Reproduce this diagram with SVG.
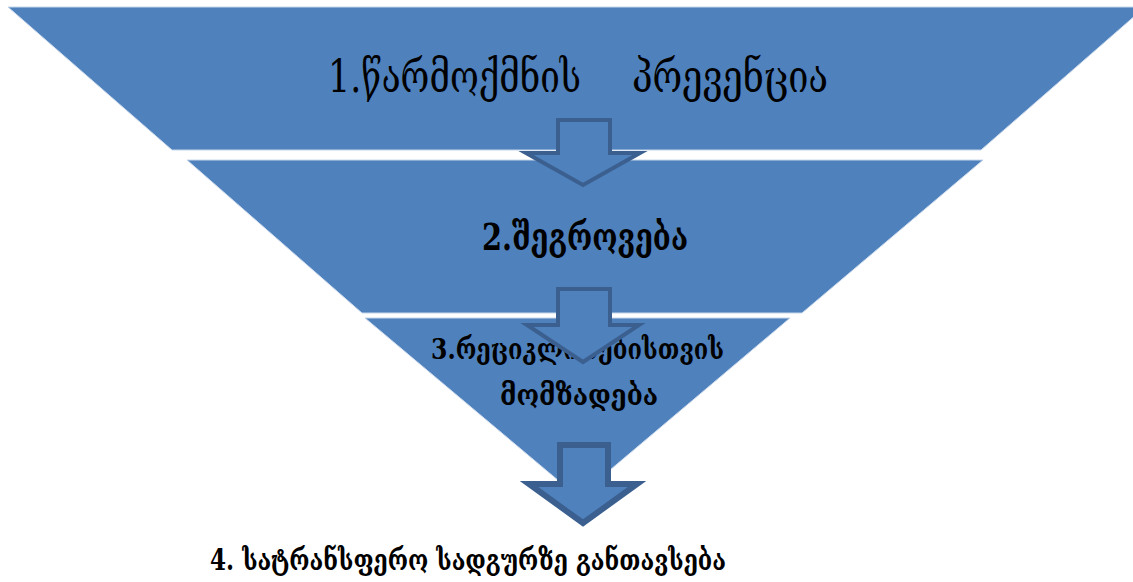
<svg xmlns="http://www.w3.org/2000/svg" width="1133" height="582" viewBox="0 0 1133 582">
<style>
.band{fill:#4f81bd;stroke:#c6d6ea;stroke-width:1}
.lbl{font-family:"DejaVu Serif","DejaVu Sans",serif;fill:#000}
.b{font-weight:bold}
.arr{fill:#4f81bd;stroke:#3b6090;stroke-linejoin:miter}
</style>
<rect width="1133" height="582" fill="#fff"/>
<g id="node1">
<polygon class="band" points="8,7 1145,7 981,150 172,150"/>
<text class="lbl" y="92" font-size="44"><tspan x="328" textLength="253" lengthAdjust="spacingAndGlyphs">1.წარმოქმნის</tspan><tspan x="632" textLength="196" lengthAdjust="spacingAndGlyphs">პრევენცია</tspan></text>
</g>
<g id="node2">
<polygon class="band" points="187,160 983,160 802,313 362,313"/>
<text class="lbl b" x="482" y="250" font-size="38" textLength="206" lengthAdjust="spacingAndGlyphs">2.შეგროვება</text>
</g>
<g id="node3">
<polygon class="band" points="365,318 790,318 578,497"/>
<text class="lbl b" x="431" y="359" font-size="28" textLength="293" lengthAdjust="spacingAndGlyphs">3.რეციკლირებისთვის</text>
<text class="lbl b" x="500" y="405" font-size="28" textLength="158" lengthAdjust="spacingAndGlyphs">მომზადება</text>
</g>
<g id="node4">
<text class="lbl b" x="210" y="570" font-size="29" textLength="516" lengthAdjust="spacingAndGlyphs">4. სატრანსფერო სადგურზე განთავსება</text>
</g>
<g id="connectors">
<polygon class="arr" stroke-width="4" points="558,120 610,120 610,153 640,153 583,185 526,153 558,153"/>
<polygon class="arr" stroke-width="4" points="558,289 610,289 610,325 639,325 583,362 527,325 558,325"/>
<polygon class="arr" stroke-width="6" points="560,445 608,445 608,484 637,484 583,523 529,484 560,484"/>
</g>
</svg>
